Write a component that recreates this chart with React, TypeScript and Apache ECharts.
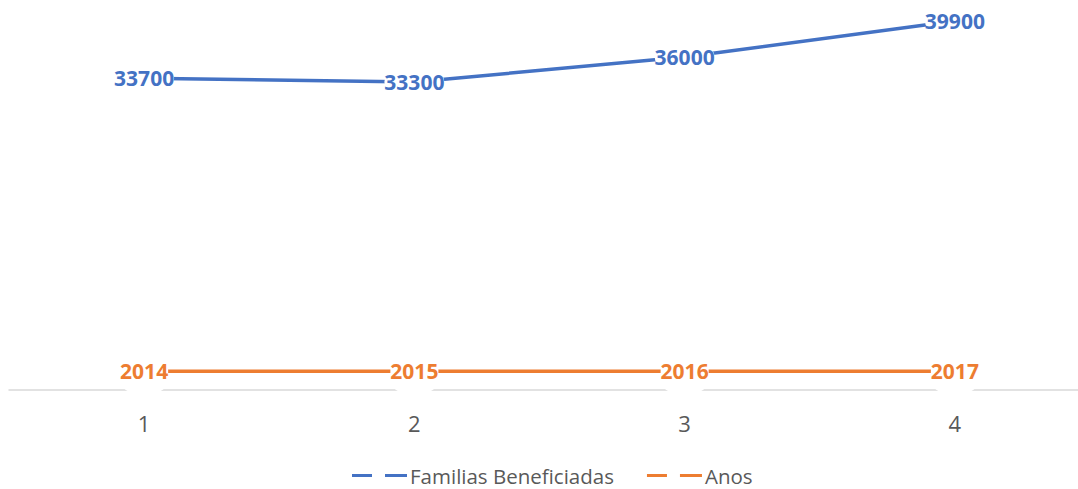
import React, { useEffect, useRef } from "react";
import * as echarts from "echarts";

const categories = ["1", "2", "3", "4"];
const familias = [33700, 33300, 36000, 39900];
const anos = [2014, 2015, 2016, 2017];
const seriesNames = ["Familias Beneficiadas", "Anos"];

const BLUE = "#4472C4";
const ORANGE = "#ED7D31";
const FONT = "'Open Sans', 'Liberation Sans', sans-serif";

const legendIcon = "path://M0,0h20v3h-20z M33,0h22v3h-22z";

export default function App() {
  const ref = useRef<HTMLDivElement>(null);
  useEffect(() => {
    if (!ref.current) return;
    const chart = echarts.init(ref.current, undefined, { renderer: "svg" });
    const label = (color: string, pad: number) => ({
      show: true,
      position: "inside",
      color,
      opacity: 1,
      fontFamily: FONT,
      fontSize: 21,
      fontWeight: "bold",
      backgroundColor: "#ffffff",
      borderRadius: 12,
      padding: [pad, 0, pad, 0],
    });
    chart.setOption({
      animation: false,
      grid: { left: 9, width: 1081, top: 20, height: 370, outerBoundsMode: "none", containLabel: false },
      xAxis: {
        type: "category",
        data: categories,
        boundaryGap: true,
        axisLine: { lineStyle: { color: "#D9D9D9", width: 1.5 } },
        axisTick: { show: false },
        axisLabel: { color: "#595959", fontFamily: FONT, fontSize: 22, margin: 22 },
        splitLine: { show: false },
      },
      yAxis: {
        type: "value",
        min: 0,
        max: 40000,
        show: false,
        splitLine: { show: false },
      },
      legend: {
        left: 352,
        top: 465,
        padding: 0,
        itemWidth: 55,
        itemHeight: 3,
        itemGap: 33,
        icon: legendIcon,
        textStyle: { color: "#595959", fontFamily: FONT, fontSize: 20.5, lineHeight: 20, padding: [0, 0, 0, -2] },
        data: [
          { name: seriesNames[0], itemStyle: { color: BLUE } },
          { name: seriesNames[1], itemStyle: { color: ORANGE } },
        ],
      },
      series: [
        {
          name: seriesNames[0],
          type: "line",
          data: familias,
          color: BLUE,
          symbol: "circle",
          symbolSize: 1,
          showSymbol: true,
          itemStyle: { color: "rgba(0,0,0,0)" },
          lineStyle: { width: 3.5, color: BLUE },
          label: label(BLUE, 0),
          z: 3,
        },
        {
          name: seriesNames[1],
          type: "line",
          data: anos,
          color: ORANGE,
          symbol: "circle",
          symbolSize: 1,
          showSymbol: true,
          itemStyle: { color: "rgba(0,0,0,0)" },
          lineStyle: { width: 3.5, color: ORANGE },
          label: label(ORANGE, 10),
          z: 2,
        },
      ],
    });
    return () => chart.dispose();
  }, []);
  return (
    <div
      ref={ref}
      style={{ position: "absolute", left: 0, top: 0, width: 1078, height: 489, background: "#fff" }}
    />
  );
}
